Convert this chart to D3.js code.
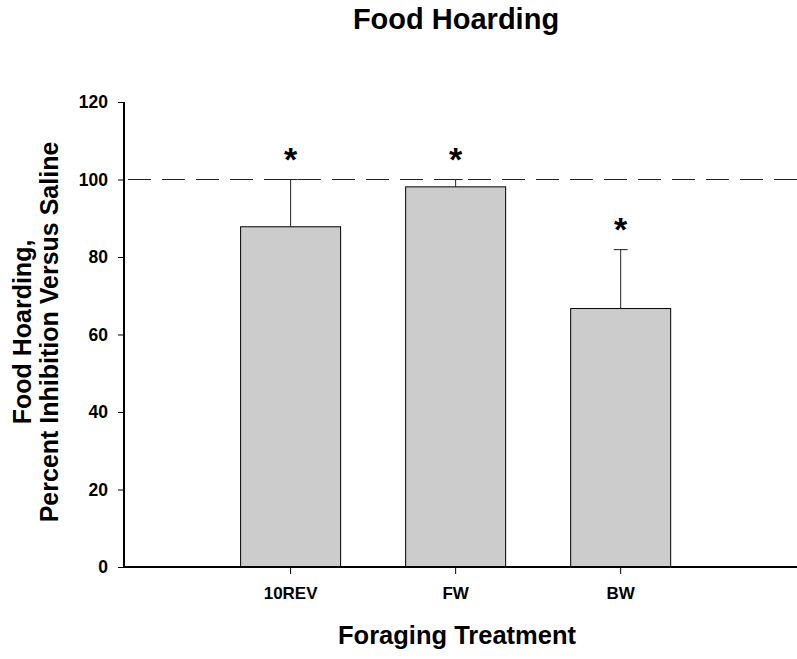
<!DOCTYPE html>
<html><head><meta charset="utf-8">
<script src="https://cdn.jsdelivr.net/npm/d3@7"></script>
<style>body{margin:0;background:#fff}svg{display:block}text{font-family:"Liberation Sans",Arial,sans-serif;font-weight:bold;fill:#000}</style>
</head><body>
<svg id="c" width="797" height="659"></svg>
<script>
const categories = ["10REV", "FW", "BW"];
const values = [87.8, 98.1, 66.7];
const errorTops = [100, 100, 81.9];
const yTicks = [0, 20, 40, 60, 80, 100, 120];
const referenceLine = 100;

const svg = d3.select("#c");
const x = d3.scaleBand().domain(categories).range([124, 797]).paddingInner(0.394).paddingOuter(0.736).align(0.48);
const y = d3.scaleLinear().domain([0, 120]).range([567, 102]);

// bars
svg.append("g").selectAll("rect").data(values).join("rect")
  .attr("x", (d, i) => x(categories[i]))
  .attr("y", d => y(d))
  .attr("width", x.bandwidth())
  .attr("height", d => y(0) - y(d))
  .attr("fill", "#cccccc").attr("stroke", "#000").attr("stroke-width", 1);

// error bars
const eb = svg.append("g").attr("stroke", "#222").attr("stroke-width", 1);
values.forEach((v, i) => {
  const cx = x(categories[i]) + x.bandwidth() / 2;
  eb.append("line").attr("x1", cx).attr("x2", cx).attr("y1", y(v)).attr("y2", y(errorTops[i]));
  eb.append("line").attr("x1", cx - 7).attr("x2", cx + 7).attr("y1", y(errorTops[i])).attr("y2", y(errorTops[i]));
});

// reference dashed line
svg.append("line").attr("x1", 128).attr("x2", 797).attr("y1", y(referenceLine)).attr("y2", y(referenceLine))
  .attr("stroke", "#222").attr("stroke-width", 1.2).attr("stroke-dasharray", "23,11");

// asterisks
svg.append("g").selectAll("text").data(errorTops).join("text")
  .attr("x", (d, i) => x(categories[i]) + x.bandwidth() / 2)
  .attr("y", d => y(d) - 9)
  .attr("text-anchor", "middle").attr("font-size", 34).text("*");

// y axis
const yAxis = svg.append("g").attr("transform", "translate(124,0)")
  .call(d3.axisLeft(y).tickValues(yTicks).tickSize(6).tickPadding(10));
yAxis.select(".domain").attr("stroke-width", 2).attr("d", "M0,102V567");
yAxis.selectAll(".tick line").attr("stroke-width", 1);
yAxis.selectAll("text").attr("font-size", 17.5).style("font-family", "Liberation Sans, Arial").style("font-weight", "bold");

// x axis
const xAxis = svg.append("g").attr("transform", "translate(0,567)")
  .call(d3.axisBottom(x).tickSize(7));
xAxis.select(".domain").attr("stroke-width", 2).attr("d", "M124,0H797");
xAxis.selectAll("text").attr("font-size", 17).attr("y", 32).attr("dy", 0)
  .style("font-family", "Liberation Sans, Arial").style("font-weight", "bold");

// titles
svg.append("text").attr("x", 456).attr("y", 29).attr("text-anchor", "middle").attr("font-size", 29).text("Food Hoarding");
svg.append("text").attr("x", 457).attr("y", 644).attr("text-anchor", "middle").attr("font-size", 25.5).text("Foraging Treatment");
const yt = svg.append("text").attr("transform", "translate(0,332) rotate(-90)").attr("text-anchor", "middle").attr("font-size", 25);
yt.append("tspan").attr("x", 0).attr("y", 31).text("Food Hoarding,");
yt.append("tspan").attr("x", 0).attr("y", 58).text("Percent Inhibition Versus Saline");
</script>
</body></html>
